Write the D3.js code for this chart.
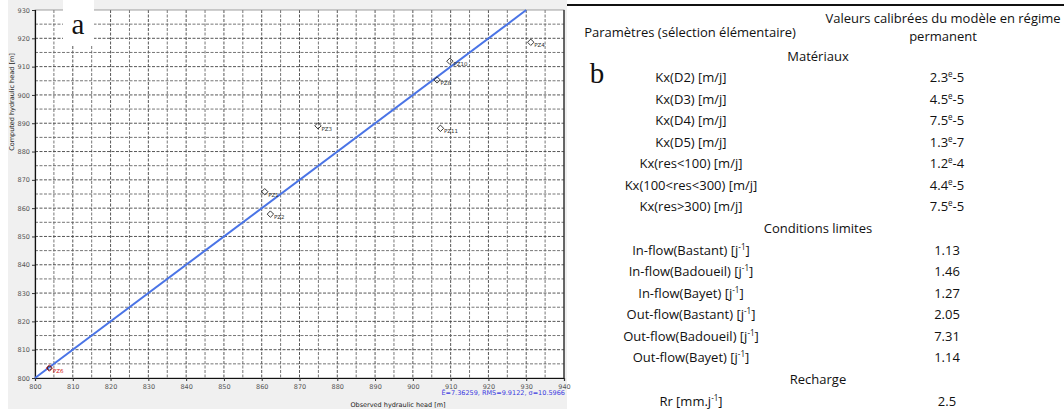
<!DOCTYPE html>
<html><head><meta charset="utf-8">
<script src="https://cdn.jsdelivr.net/npm/d3@7"></script>
<style>body{margin:0;background:#fff}svg{display:block}</style>
</head><body><svg id="c" width="1064" height="409"></svg>
<script>
// ---- data: panel a ----
const wellNames    = ["PZ1","PZ2","PZ3","PZ4","PZ6","PZ8","PZ10","PZ11"];
const observedHead = [860.8, 862.3, 874.9, 931.2, 803.8, 906.4, 909.8, 907.3];
const computedHead = [865.8, 857.9, 889.1, 918.6, 803.5, 905.3, 911.9, 888.2];
const highlightWell = "PZ6";
const xTicks = [800,810,820,830,840,850,860,870,880,890,900,910,920,930,940];
const yTicks = [800,810,820,830,840,850,860,870,880,890,900,910,920,930];
const identityLine = [800, 930];
const statsText = "Ē=7.36259, RMS=9.9122, σ=10.5966";
const xTitle = "Observed hydraulic head [m]";
const yTitle = "Computed hydraulic head [m]";

// ---- data: panel b (table) ----
const headerParam = "Paramètres (sélection élémentaire)";
const headerValue = ["Valeurs calibrées du modèle en régime", "permanent"];
const sectionNames = ["Matériaux", "Conditions limites", "Recharge"];
const materialParams = ["Kx(D2) [m/j]","Kx(D3) [m/j]","Kx(D4) [m/j]","Kx(D5) [m/j]","Kx(res<100) [m/j]","Kx(100<res<300) [m/j]","Kx(res>300) [m/j]"];
const materialValues = ["2.3{e}-5","4.5{e}-5","7.5{e}-5","1.3{e}-7","1.2{e}-4","4.4{e}-5","7.5{e}-5"];
const boundaryParams = ["In-flow(Bastant) [j{-1}]","In-flow(Badoueil) [j{-1}]","In-flow(Bayet) [j{-1}]","Out-flow(Bastant) [j{-1}]","Out-flow(Badoueil) [j{-1}]","Out-flow(Bayet) [j{-1}]"];
const boundaryValues = ["1.13","1.46","1.27","2.05","7.31","1.14"];
const rechargeParams = ["Rr [mm.j{-1}]"];
const rechargeValues = ["2.5"];

const svg = d3.select("#c");

// ---------- Panel a ----------
svg.append("rect").attr("x",8).attr("y",0).attr("width",559).attr("height",409).attr("fill","#f0f0f0");

const x = d3.scaleLinear().domain([800,940]).range([35,564]);
const y = d3.scaleLinear().domain([800,930]).range([378,10]);

svg.append("rect").attr("x",x(800)).attr("y",y(930)).attr("width",x(940)-x(800)).attr("height",y(800)-y(930)).attr("fill","#fff");

const grid = svg.append("g");
const gx = d3.range(805, 940, 5);
const gy = d3.range(805, 930, 5);
grid.selectAll("line.v").data(gx).join("line").attr("class","v")
  .attr("x1",d=>x(d)).attr("x2",d=>x(d)).attr("y1",y(930)).attr("y2",y(800))
  .attr("stroke", d=> d%10===0 ? "#444" : "#666").attr("stroke-width",0.9).attr("stroke-dasharray","3,1.5");
grid.selectAll("line.h").data(gy).join("line").attr("class","h")
  .attr("y1",d=>y(d)).attr("y2",d=>y(d)).attr("x1",x(800)).attr("x2",x(940))
  .attr("stroke", d=> d%10===0 ? "#444" : "#666").attr("stroke-width",0.9).attr("stroke-dasharray","3,1.5");

// border
svg.append("rect").attr("x",x(800)).attr("y",y(930)).attr("width",x(940)-x(800)).attr("height",y(800)-y(930))
  .attr("fill","none").attr("stroke","#888").attr("stroke-width",0.8);
svg.append("line").attr("x1",x(940)).attr("x2",x(940)).attr("y1",y(930)).attr("y2",y(800)).attr("stroke","#222").attr("stroke-width",1.2);

const tickFont = "DejaVu Sans, sans-serif";
const xAxis = svg.append("g").attr("transform",`translate(0,${y(800)})`)
  .call(d3.axisBottom(x).tickValues(xTicks).tickSize(3).tickPadding(3).tickFormat(d3.format("d")));
const yAxis = svg.append("g").attr("transform",`translate(${x(800)},0)`)
  .call(d3.axisLeft(y).tickValues(yTicks).tickSize(3).tickPadding(2).tickFormat(d3.format("d")));
[xAxis,yAxis].forEach(a=>{
  a.selectAll("path.domain").attr("stroke","#111").attr("stroke-width",1.2);
  a.selectAll(".tick line").attr("stroke","#333");
  a.selectAll("text").attr("font-family",tickFont).attr("font-size",6.5).attr("fill","#555");
});

// identity line
svg.append("line")
  .attr("x1",x(identityLine[0])).attr("y1",y(identityLine[0]))
  .attr("x2",x(identityLine[1])).attr("y2",y(identityLine[1]))
  .attr("stroke","#4a74e6").attr("stroke-width",2);

// points
const pts = wellNames.map((n,i)=>({name:n, o:observedHead[i], c:computedHead[i]}));
const sym = d3.symbol().type(d3.symbolDiamond2).size(26);
const pg = svg.append("g").selectAll("g").data(pts).join("g")
  .attr("transform",d=>`translate(${x(d.o)},${y(d.c)})`);
pg.append("path").attr("d",sym).attr("fill","none")
  .attr("stroke",d=>d.name===highlightWell?"#d42020":"#222").attr("stroke-width",0.9);
pg.filter(d=>d.name===highlightWell).append("circle").attr("r",2).attr("fill","none").attr("stroke","#402030").attr("stroke-width",1);
pg.append("text").text(d=>d.name).attr("x",3.5).attr("y",5)
  .attr("font-family",tickFont).attr("font-size",5.5)
  .attr("fill",d=>d.name===highlightWell?"#d42020":"#333");

// stats
svg.append("text").text(statsText).attr("x",565).attr("y",395).attr("text-anchor","end")
  .attr("font-family",tickFont).attr("font-size",6.5).attr("fill","#3a3ae0");
svg.append("text").text(xTitle).attr("x",398).attr("y",407).attr("text-anchor","middle")
  .attr("font-family",tickFont).attr("font-size",6.5).attr("fill","#222");
svg.append("text").text(yTitle).attr("transform","translate(14,102) rotate(-90)").attr("text-anchor","middle")
  .attr("font-family",tickFont).attr("font-size",6.5).attr("fill","#222");

// label a
svg.append("rect").attr("x",63).attr("y",0).attr("width",31).attr("height",45).attr("fill","#fff");
svg.append("text").text("a").attr("x",78).attr("y",34).attr("text-anchor","middle")
  .attr("font-family","Liberation Serif, serif").attr("font-size",29).attr("fill","#111");

// ---------- Panel b ----------
const tFont = "Open Sans, sans-serif";
const tSize = 13;
svg.append("line").attr("x1",567).attr("x2",1064).attr("y1",5).attr("y2",5).attr("stroke","#111").attr("stroke-width",2);

function rich(sel, str){
  const parts = str.split(/(\{[^}]*\})/).filter(s=>s.length);
  let shift = 0;
  parts.forEach(p=>{
    if (p[0]==="{") {
      sel.append("tspan").text(p.slice(1,-1)).attr("font-size",tSize*0.62).attr("dy",-5);
      shift = 5;
    } else {
      const t = sel.append("tspan").text(p);
      if (shift) { t.attr("dy", shift); shift = 0; }
    }
  });
}

svg.append("text").text(headerParam).attr("x",690).attr("y",37).attr("text-anchor","middle")
  .attr("font-family",tFont).attr("font-size",tSize).attr("fill","#111");
headerValue.forEach((h,i)=>{
  svg.append("text").text(h).attr("x",943).attr("y",23+i*18).attr("text-anchor","middle")
    .attr("font-family",tFont).attr("font-size",tSize).attr("fill","#111");
});

svg.append("text").text("b").attr("x",597).attr("y",83).attr("text-anchor","middle")
  .attr("font-family","Liberation Serif, serif").attr("font-size",29).attr("fill","#111");

const rows = [];
rows.push({section:sectionNames[0]});
materialParams.forEach((p,i)=>rows.push({p, v:materialValues[i]}));
rows.push({section:sectionNames[1]});
boundaryParams.forEach((p,i)=>rows.push({p, v:boundaryValues[i]}));
rows.push({section:sectionNames[2]});
rechargeParams.forEach((p,i)=>rows.push({p, v:rechargeValues[i]}));

const ry = d3.scalePoint().domain(d3.range(rows.length)).range([56,401]);
rows.forEach((r,i)=>{
  const yy = ry(i) + 4.5;
  if (r.section){
    svg.append("text").text(r.section).attr("x",818).attr("y",yy).attr("text-anchor","middle")
      .attr("font-family",tFont).attr("font-size",tSize).attr("fill","#111");
  } else {
    const t1 = svg.append("text").attr("x",691).attr("y",yy).attr("text-anchor","middle")
      .attr("font-family",tFont).attr("font-size",tSize).attr("fill","#111");
    rich(t1, r.p);
    const t2 = svg.append("text").attr("x",947).attr("y",yy).attr("text-anchor","middle")
      .attr("font-family",tFont).attr("font-size",tSize).attr("fill","#111");
    rich(t2, r.v);
  }
});
</script></body></html>
